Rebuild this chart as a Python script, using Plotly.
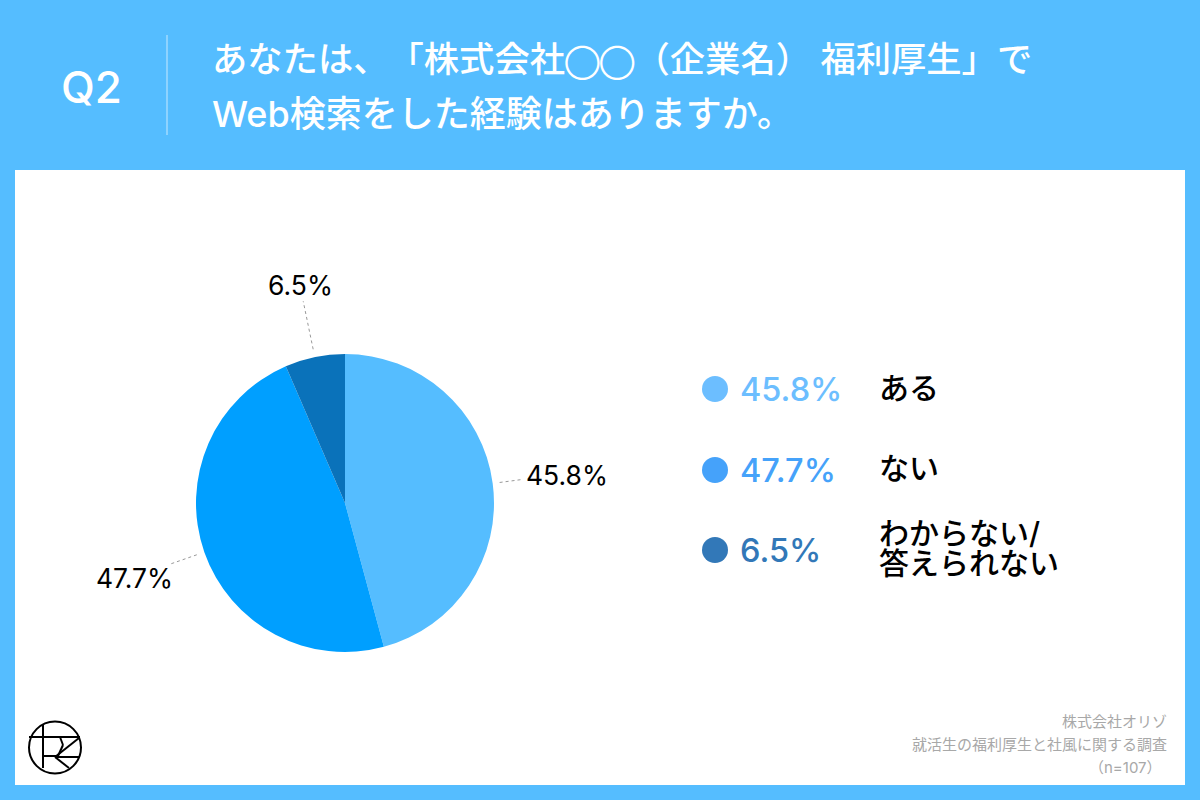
import math
import plotly.graph_objects as go

W = 1200
H = 800

CATEGORIES = ['ある', 'ない', 'わからない/<br>答えられない']
VALUES = [45.8, 47.7, 6.5]
SLICE_COLORS = ['#55BDFF', '#009FFF', '#0A72BA']
DOT_COLORS = ['#6CBEFF', '#45A2FA', '#3278B8']
TITLE_LINES = ['あなたは、「株式会社◯◯（企業名） 福利厚生」で', 'Web検索をした経験はありますか。']
FOOTER_LINES = ['株式会社オリゾ', '就活生の福利厚生と社風に関する調査', '（n=107）']

BLUE = '#55BDFF'
JP_FONT = 'Inter, Noto Sans CJK JP'

# pie box in pixels
CX, CY, R = 345, 503, 149


def px(x):
    return x / W


def py(y):
    return 1 - y / H


def text(fig, x, y, s, size, color, anchor='left', weight=400):
    fig.add_annotation(x=px(x), y=py(y), xref='paper', yref='paper', text=s, showarrow=False,
                       xanchor=anchor, yanchor='middle', align=anchor,
                       font=dict(family=JP_FONT, size=size, color=color, weight=weight))


def line(fig, x0, y0, x1, y1, color='black', width=2, dash='solid', layer='above'):
    fig.add_shape(type='line', xref='paper', yref='paper', x0=px(x0), y0=py(y0), x1=px(x1), y1=py(y1),
                  line=dict(color=color, width=width, dash=dash), layer=layer)


def circle(fig, x, y, r, fill=None, outline=None, width=0):
    fig.add_shape(type='circle', xref='paper', yref='paper', x0=px(x - r), x1=px(x + r),
                  y0=py(y + r), y1=py(y - r), fillcolor=fill,
                  line=dict(color=outline, width=width))


fig = go.Figure()

fig.add_trace(go.Pie(labels=CATEGORIES, values=VALUES, sort=False, direction='clockwise', rotation=0,
                     marker=dict(colors=SLICE_COLORS, line=dict(width=0)), textinfo='none',
                     hoverinfo='label+percent', showlegend=False,
                     domain=dict(x=[px(CX - R), px(CX + R)], y=[py(CY + R), py(CY - R)])))

fig.update_layout(width=W, height=H, margin=dict(l=0, r=0, t=0, b=0), paper_bgcolor=BLUE,
                  plot_bgcolor='white', showlegend=False)

# white card and header
fig.add_shape(type='rect', xref='paper', yref='paper', x0=px(15), x1=px(1185), y0=py(785), y1=py(170),
              fillcolor='white', line=dict(width=0), layer='below')
line(fig, 167, 35, 167, 135, color='#C8E9FF', width=1)
text(fig, 91, 87, 'Q2', 44, 'white', anchor='center', weight=500)
# the fallback circle glyph is too wide, and chrome squeezes the 、「 pair
title_top = TITLE_LINES[0].replace('◯◯', '<span style="font-size:25px">◯◯</span>')
title_top = title_top.replace('、「', '<span style="text-spacing-trim:space-all">、「</span>')
text(fig, 210, 60, title_top, 35.3, 'white', weight=500)
text(fig, 210, 114, TITLE_LINES[1], 36, 'white', weight=500)

# outer labels with dotted leaders, placed from the slice mid angles
LEADER_START = [156, 157, 157]
LEADER_END = [178, 184, 206]
LABEL_POS = [(567, 475), (134, 578), (300, 285)]
cumulative = 0
total = sum(VALUES)
for i, v in enumerate(VALUES):
    mid = (cumulative + v / 2) / total * 2 * math.pi
    cumulative += v
    sx, cx = math.sin(mid), math.cos(mid)
    line(fig, CX + LEADER_START[i] * sx, CY - LEADER_START[i] * cx,
         CX + LEADER_END[i] * sx, CY - LEADER_END[i] * cx, color='#999999', width=1, dash='dot')
    text(fig, LABEL_POS[i][0], LABEL_POS[i][1], f'{v}%', 26.5, 'black', anchor='center')

# legend on the right
LEGEND_Y = [389, 470, 550]
for i, v in enumerate(VALUES):
    circle(fig, 715, LEGEND_Y[i], 13, fill=DOT_COLORS[i])
    text(fig, 738, LEGEND_Y[i], f'{v}%', 32.5, DOT_COLORS[i], weight=500)
text(fig, 877, 388, 'ある', 30, 'black', weight=500)
text(fig, 877, 468, 'ない', 30, 'black', weight=500)
first_line, second_line = CATEGORIES[2].split('<br>')
text(fig, 877, 533, first_line, 30, 'black', weight=500)
text(fig, 877, 563, second_line, 30, 'black', weight=500)

# footer
text(fig, 1169, 721, FOOTER_LINES[0], 15, '#A8A8A8', anchor='right')
text(fig, 1169, 744, FOOTER_LINES[1], 15, '#A8A8A8', anchor='right')
text(fig, 1164, 767, FOOTER_LINES[2], 15, '#A8A8A8', anchor='right')

# logo
circle(fig, 55, 747.5, 26, outline='black', width=2)
line(fig, 43, 725, 43, 768)
line(fig, 29, 737, 80, 737)
line(fig, 79, 738, 55, 757)
line(fig, 55, 757, 80, 757)
line(fig, 55, 757, 69, 768)
line(fig, 60, 737, 63, 745)
line(fig, 63, 745, 58, 756)
line(fig, 43, 756, 58, 756)

fig.write_html('out.html', config=dict(displayModeBar=False),
               post_script="document.body.style.margin='0';document.body.style.overflow='hidden';")
